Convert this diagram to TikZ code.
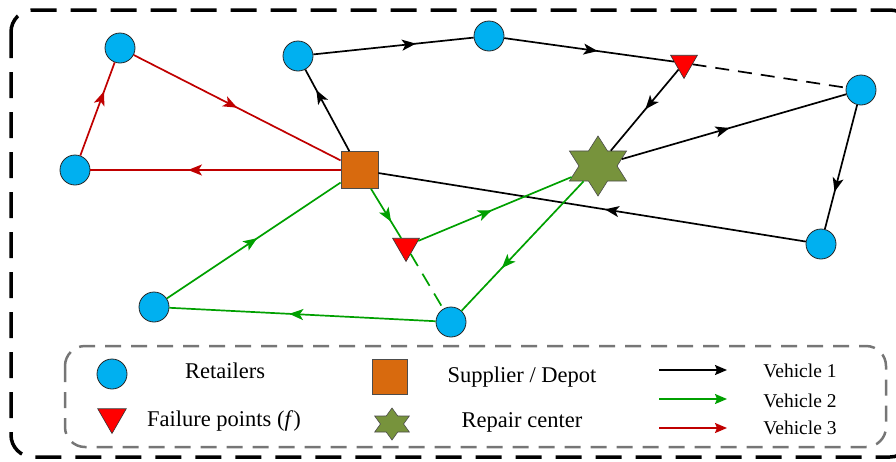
\documentclass[tikz,border=0pt]{standalone}
\usepackage{fontspec}
\setmainfont{Liberation Serif}
\usetikzlibrary{arrows.meta,decorations.markings,shapes.geometric}

\definecolor{retailblue}{RGB}{0,176,240}
\definecolor{depotorange}{RGB}{216,106,14}
\definecolor{repairgreen}{RGB}{119,147,60}
\definecolor{vtwo}{RGB}{0,160,0}
\definecolor{vthree}{RGB}{192,0,0}
\definecolor{legendgray}{RGB}{118,118,118}

\begin{document}
\begin{tikzpicture}[x=1pt, y=-1pt,
    every node/.style={font=\fontsize{22.5}{27}\selectfont},
    retailer/.style={circle, draw=black!85, line width=0.8pt, fill=retailblue, minimum size=30pt, inner sep=0pt},
    depot/.style={rectangle, draw=black!70, line width=0.8pt, fill=depotorange, minimum size=37pt, inner sep=0pt},
    failure/.style={regular polygon, regular polygon sides=3, shape border rotate=180, draw=black!80, line width=0.6pt, fill=red, minimum size=31pt, inner sep=0pt},
    repair/.style={star, star points=6, star point ratio=1.73, draw=black!70, line width=0.6pt, fill=repairgreen, minimum size=60pt, inner sep=0pt},
    route/.style={line width=1.7pt},
    routedash/.style={line width=1.7pt, dash pattern=on 14pt off 9pt},
    midarrow/.style={postaction={decorate}, decoration={markings, mark=at position #1 with {\arrow{Stealth[length=14pt,width=11pt,inset=3.5pt]}}}},
    midarrow/.default=0.55,
    vlabel/.style={anchor=base, font=\fontsize{19.5}{23}\selectfont}]
    \useasboundingbox (0,0) rectangle (896,461);
    \clip (0,0) rectangle (896,461);

    \draw[line width=3.5pt, dash pattern=on 26pt off 14pt, rounded corners=22pt] (11,10) rectangle (912,457);

    \node[retailer] (ra) at (120,48) {};
    \node[retailer] (rb) at (75,170) {};
    \node[retailer] (rc) at (298,56) {};
    \node[retailer] (rd) at (489,36) {};
    \node[retailer] (re) at (861,90) {};
    \node[retailer] (rf) at (821,244) {};
    \node[retailer] (rg) at (154,307) {};
    \node[retailer] (rh) at (451,322) {};
    \node[depot] (depot) at (359.5,170) {};
    \node[repair, xscale=1.1, transform shape] (repair) at (598,166) {};
    \node[failure] (fa) at (684,63) {};
    \node[failure] (fb) at (406,246) {};

    \draw[route, midarrow=0.75] (depot) -- (rc);
    \draw[route, midarrow=0.64] (rc) -- (rd);
    \draw[route, midarrow=0.55] (rd) -- (fa);
    \draw[route, midarrow=0.49] (fa) -- (repair);
    \draw[route, midarrow=0.48] (repair) -- (re);
    \draw[route, midarrow=0.7] (re) -- (rf);
    \draw[route, midarrow=0.47] (rf) -- (depot);
    \draw[routedash] (fa) -- (re);

    \draw[route, vtwo, midarrow=0.52] (rg) -- (depot);
    \draw[route, vtwo, midarrow=0.67] (depot) -- (fb);
    \draw[route, vtwo, midarrow=0.48] (fb) -- (repair);
    \draw[route, vtwo, midarrow=0.67] (repair) -- (rh);
    \draw[route, vtwo, midarrow=0.55] (rh) -- (rg);
    \draw[routedash, vtwo] (fb) -- (rh);

    \draw[route, vthree, midarrow=0.5] (ra) -- (depot);
    \draw[route, vthree, midarrow=0.61] (depot) -- (rb);
    \draw[route, vthree, midarrow=0.69] (rb) -- (ra);

    \draw[legendgray, line width=2.5pt, dash pattern=on 16pt off 10pt, rounded corners=20pt] (65,346) rectangle (886,447);
    \node[retailer] (lretail) at (112,374) {};
    \node[anchor=base] (tretail) at (225,378) {Retailers};
    \node[failure, minimum size=33pt] (lfail) at (112,417) {};
    \node[anchor=base] (tfail) at (224,426) {Failure points (\textit{f})};
    \node[depot, minimum size=35pt] (ldepot) at (390,377) {};
    \node[anchor=base] (tdepot) at (522,382) {Supplier / Depot};
    \node[repair, minimum size=32pt, xscale=1.25, transform shape] (lrepair) at (392,424) {};
    \node[anchor=base] (trepair) at (522,427) {Repair center};

    \coordinate (lva) at (659,370);
    \coordinate (lvb) at (727,370);
    \coordinate (lwa) at (659,399);
    \coordinate (lwb) at (727,399);
    \coordinate (lxa) at (659,428);
    \coordinate (lxb) at (727,428);
    \draw[route, -{Stealth[length=12pt,width=10pt,inset=2pt]}] (lva) -- (lvb);
    \draw[route, vtwo, -{Stealth[length=12pt,width=10pt,inset=2pt]}] (lwa) -- (lwb);
    \draw[route, vthree, -{Stealth[length=12pt,width=10pt,inset=2pt]}] (lxa) -- (lxb);
    \node[vlabel] (tva) at (800,377) {Vehicle 1};
    \node[vlabel] (tvb) at (800,407) {Vehicle 2};
    \node[vlabel] (tvc) at (800,434) {Vehicle 3};
\end{tikzpicture}
\end{document}
